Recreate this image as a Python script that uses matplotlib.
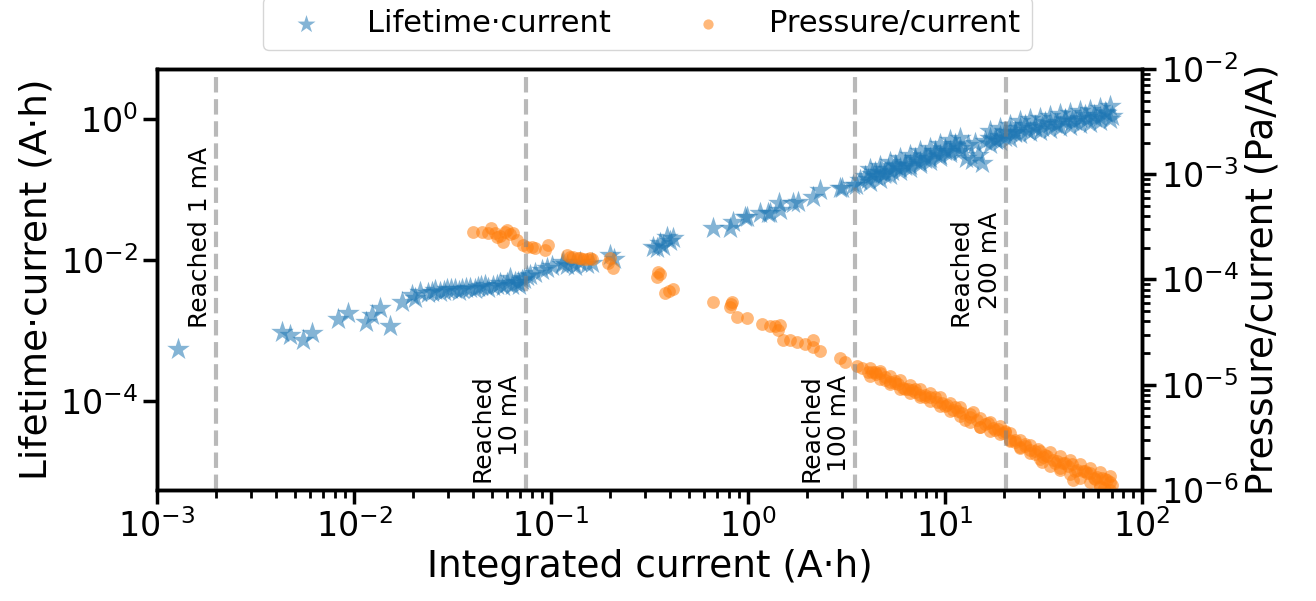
import numpy as np
import matplotlib
matplotlib.use("Agg")
import matplotlib.pyplot as plt
from matplotlib.ticker import NullLocator

# === Daten ===

# Lifetime·current (linke Achse)
life_x = [0.00128, 0.00431, 0.00473, 0.00551, 0.00612, 0.0083, 0.0093, 0.0115, 0.0123, 0.0135,
          0.0152, 0.0175, 0.0197, 0.0204, 0.0216, 0.0238, 0.0248, 0.0258, 0.0273, 0.0285,
          0.0297, 0.031, 0.0326, 0.034, 0.0353, 0.037, 0.0388, 0.041, 0.0426, 0.044,
          0.0462, 0.048, 0.0508, 0.053, 0.0551, 0.057, 0.0598, 0.0619, 0.0634, 0.066,
          0.068, 0.069, 0.0713, 0.073, 0.0755, 0.078, 0.0829, 0.090, 0.0954, 0.1012,
          0.1137, 0.1151, 0.1206, 0.1293, 0.1324, 0.1404, 0.1523, 0.1614, 0.1993, 0.21,
          0.33, 0.3451, 0.3574, 0.37, 0.388, 0.40, 0.4162, 0.6643, 0.8102, 0.8393,
          0.966, 0.9883, 1.151, 1.263, 1.293, 1.43, 1.453, 1.692, 1.794, 2.138,
          2.32, 2.93, 3.0, 3.41, 3.55, 3.703, 3.925, 4.066, 4.260, 4.464,
          4.679, 4.902, 5.137, 5.383, 5.640, 5.910, 6.266, 6.642, 7.042, 7.467,
          7.918, 8.394, 8.897, 9.432, 10.0, 10.60, 11.24, 11.92, 12.78, 13.09,
          13.71, 14.20, 14.71, 15.41, 15.96, 16.92, 18.15, 19.02, 20.16, 21.38,
          22.66, 24.03, 26.08, 28.63, 31.08, 34.12, 37.03, 40.66, 44.13, 48.45,
          52.58, 57.06, 61.22, 65.66, 70.42]
life_y = [5.47e-4, 9.52e-4, 8.64e-4, 7.33e-4, 9.22e-4, 1.46e-3, 1.77e-3, 1.32e-3, 1.66e-3, 2.09e-3,
          1.16e-3, 2.54e-3, 3.19e-3, 2.89e-3, 3.52e-3, 3.40e-3, 3.6e-3, 3.75e-3, 3.52e-3, 3.7e-3,
          3.88e-3, 3.95e-3, 3.88e-3, 3.7e-3, 3.88e-3, 4.1e-3, 4.01e-3, 3.9e-3, 4.14e-3, 4.3e-3,
          4.42e-3, 4.0e-3, 4.28e-3, 4.5e-3, 4.72e-3, 4.3e-3, 4.72e-3, 5.56e-3, 4.42e-3, 5.0e-3,
          4.88e-3, 4.5e-3, 5.20e-3, 5.5e-3, 5.93e-3, 6.2e-3, 6.54e-3, 7.21e-3, 7.7e-3, 8.22e-3,
          8.77e-3, 9.37e-3, 8.49e-3, 9.06e-3, 8.22e-3, 9.37e-3, 8.77e-3, 9.06e-3, 1.18e-2, 1.05e-2,
          1.55e-2, 1.48e-2, 1.74e-2, 1.6e-2, 2.12e-2, 1.9e-2, 2.05e-2, 2.84e-2, 2.84e-2, 3.46e-2,
          4.07e-2, 4.07e-2, 4.64e-2, 4.64e-2, 4.64e-2, 6.44e-2, 5.12e-2, 6.44e-2, 6.65e-2, 7.83e-2,
          9.84e-2, 0.105, 0.105, 0.116, 0.116, 0.136, 0.155, 0.141, 0.166, 0.155,
          0.177, 0.166, 0.195, 0.183, 0.216, 0.202, 0.230, 0.223, 0.262, 0.245,
          0.299, 0.280, 0.330, 0.309, 0.375, 0.352, 0.414, 0.388, 0.280, 0.428,
          0.262, 0.457, 0.309, 0.238, 0.488, 0.537, 0.504, 0.574, 0.556, 0.654,
          0.633, 0.745, 0.698, 0.796, 0.770, 0.877, 0.849, 0.968, 0.937, 1.033,
          1.0, 1.140, 1.067, 1.216, 1.103]

# dichtes Band > 4 A·h: Ober- und Unterkante
life_band_x = [4.162, 4.679, 5.258, 5.910, 6.642, 7.467, 8.394, 9.432, 10.60, 11.92,
               16.92, 19.02, 21.38, 24.03, 27.01, 30.36, 34.12, 38.36, 43.10, 48.45,
               54.45, 61.22, 68.82]
life_band_hi = [0.195, 0.219, 0.245, 0.280, 0.313, 0.352, 0.394, 0.442, 0.504, 0.547,
                0.676, 0.745, 0.822, 0.937, 1.0, 1.050, 1.103, 1.178, 1.236, 1.298,
                1.364, 1.456, 1.554]
life_band_lo = [0.128, 0.143, 0.161, 0.183, 0.205, 0.230, 0.258, 0.289, 0.330, 0.357,
                0.442, 0.488, 0.537, 0.613, 0.654, 0.687, 0.721, 0.770, 0.809, 0.849,
                0.892, 0.952, 1.016]

# zusätzliche Punkte in der Bandmitte (beide Reihen)
band_mid_x = [4.413, 4.959, 5.574, 6.266, 7.042, 7.918, 8.897, 10.0, 11.24, 17.94,
              20.16, 22.66, 25.47, 28.63, 32.19, 36.18, 40.66, 45.69, 51.37, 57.73,
              64.89]
life_mid_y = [0.177, 0.171, 0.223, 0.219, 0.280, 0.275, 0.352, 0.352, 0.442, 0.529,
              0.665, 0.654, 0.822, 0.757, 0.906, 0.849, 1.016, 0.937, 1.140, 1.050,
              1.277]
press_mid_y = [1.32e-5, 1.12e-5, 1.086e-5, 9.11e-6, 9.11e-6, 7.65e-6, 7.65e-6, 6.35e-6, 6.15e-6, 3.72e-6,
               3.64e-6, 2.83e-6, 2.71e-6, 2.20e-6, 2.15e-6, 1.81e-6, 1.81e-6, 1.52e-6, 1.52e-6, 1.27e-6,
               1.27e-6]

# Pressure/current (rechte Achse)
press_x = [0.0402, 0.0447, 0.0479, 0.0496, 0.0519, 0.0532, 0.0551, 0.0571, 0.0584, 0.0598,
           0.0619, 0.0641, 0.0672, 0.0721, 0.0755, 0.0801, 0.0829, 0.0932, 0.0965, 0.1206,
           0.1249, 0.1293, 0.1371, 0.1404, 0.1454, 0.1523, 0.1578, 0.1614, 0.1947, 0.1993,
           0.2064, 0.3451, 0.3491, 0.3574, 0.3791, 0.397, 0.4162, 0.6643, 0.8102, 0.82,
           0.8295, 0.8793, 0.9883, 1.178, 1.293, 1.37, 1.420, 1.453, 1.505, 1.634,
           1.773, 1.947, 2.138, 2.138, 2.320, 2.931, 3.108, 3.576, 3.791, 4.066,
           4.260, 4.464, 4.679, 4.959, 5.258, 5.574, 5.773, 6.122, 6.490, 6.800,
           7.042, 7.467, 7.918, 8.394, 9.108, 9.656, 10.24, 10.98, 11.64, 12.20,
           12.63, 13.40, 13.87, 14.54, 15.05, 15.96, 16.53, 17.52, 18.58, 19.70,
           20.16, 21.38, 22.66, 24.03, 25.47, 27.01, 28.63, 29.66, 31.08, 31.44,
           32.94, 35.34, 37.03, 38.36, 39.72, 42.11, 44.13, 44.64, 46.77, 50.17,
           52.58, 54.45, 57.06, 59.11, 61.22, 62.66, 64.13, 66.42, 68.82, 70.42]
press_y = [2.83e-4, 2.83e-4, 2.77e-4, 3.08e-4, 2.77e-4, 2.53e-4, 2.59e-4, 2.27e-4, 2.83e-4, 2.95e-4,
           2.71e-4, 2.77e-4, 2.37e-4, 2.13e-4, 2.04e-4, 2.04e-4, 2.0e-4, 1.91e-4, 2.13e-4, 1.71e-4,
           1.64e-4, 1.64e-4, 1.60e-4, 1.60e-4, 1.57e-4, 1.57e-4, 1.60e-4, 1.57e-4, 1.44e-4, 1.60e-4,
           1.29e-4, 1.06e-4, 1.18e-4, 1.12e-4, 7.44e-5, 7.8e-5, 8.12e-5, 6.11e-5, 5.48e-5, 5.8e-5,
           6.11e-5, 4.40e-5, 4.31e-5, 3.78e-5, 3.62e-5, 3.62e-5, 3.31e-5, 3.70e-5, 2.66e-5, 2.66e-5,
           2.55e-5, 2.44e-5, 2.66e-5, 2.28e-5, 2.09e-5, 1.80e-5, 1.64e-5, 1.51e-5, 1.44e-5, 1.32e-5,
           1.32e-5, 1.26e-5, 1.29e-5, 1.19e-5, 1.06e-5, 1.04e-5, 1.02e-5, 9.31e-6, 9.11e-6, 8.91e-6,
           8.53e-6, 7.99e-6, 7.99e-6, 7.65e-6, 6.86e-6, 6.71e-6, 6.42e-6, 5.75e-6, 5.63e-6, 5.39e-6,
           4.62e-6, 4.94e-6, 5.51e-6, 4.62e-6, 3.97e-6, 4.24e-6, 4.33e-6, 3.88e-6, 3.80e-6, 3.48e-6,
           3.56e-6, 2.99e-6, 2.99e-6, 2.56e-6, 2.62e-6, 2.40e-6, 2.35e-6, 2.45e-6, 1.85e-6, 2.06e-6,
           2.10e-6, 1.93e-6, 1.89e-6, 1.62e-6, 1.81e-6, 1.69e-6, 1.77e-6, 1.25e-6, 1.55e-6, 1.52e-6,
           1.45e-6, 1.45e-6, 1.30e-6, 1.33e-6, 1.07e-6, 1.30e-6, 1.04e-6, 1.25e-6, 1.19e-6, 1.12e-6]

# dichtes Band > 4 A·h: Ober- und Unterkante
press_band_x = [4.162, 4.679, 5.258, 5.910, 6.642, 7.467, 8.394, 9.432, 10.60, 11.92,
                13.40, 15.05, 16.92, 19.02, 21.38, 24.03, 27.01, 30.36, 34.12, 38.36,
                43.10, 48.45, 54.45, 61.22, 68.82]
press_band_hi = [1.43e-5, 1.35e-5, 1.21e-5, 1.10e-5, 9.95e-6, 9.11e-6, 8.35e-6, 7.57e-6, 6.78e-6, 6.08e-6,
                 5.33e-6, 4.78e-6, 4.38e-6, 4.06e-6, 3.48e-6, 2.99e-6, 2.68e-6, 2.35e-6, 2.30e-6, 2.10e-6,
                 1.93e-6, 1.77e-6, 1.62e-6, 1.48e-6, 1.36e-6]
press_band_lo = [1.20e-5, 1.13e-5, 1.02e-5, 9.21e-6, 8.35e-6, 7.65e-6, 7.01e-6, 6.35e-6, 5.69e-6, 5.10e-6,
                 4.47e-6, 4.01e-6, 3.67e-6, 3.40e-6, 2.92e-6, 2.51e-6, 2.25e-6, 1.97e-6, 1.69e-6, 1.55e-6,
                 1.42e-6, 1.30e-6, 1.19e-6, 1.09e-6, 1.0e-6]

# Markierungen "Reached ..."
reached_x = [0.002, 0.075, 3.5, 20.5]
reached_labels = ["Reached 1 mA", "Reached\n10 mA", "Reached\n100 mA", "Reached \n200 mA"]
reached_ypos = [0.385, 0.018, 0.018, 0.385]

# === Plot ===
fig = plt.figure(figsize=(13.16, 6.01), dpi=100)
ax = fig.add_axes([0.1193, 0.1847, 0.7485, 0.7005])
ax2 = ax.twinx()

lx = life_x + life_band_x + life_band_x + band_mid_x
ly = life_y + life_band_hi + life_band_lo + life_mid_y
px = press_x + press_band_x + press_band_x + band_mid_x
py = press_y + press_band_hi + press_band_lo + press_mid_y

sc1 = ax.scatter(lx, ly, marker='*', s=290, color='tab:blue', alpha=0.55, linewidths=0,
                 label='Lifetime·current')
sc2 = ax2.scatter(px, py, marker='o', s=85, color='tab:orange', alpha=0.55, linewidths=0,
                  label='Pressure/current')

for xv, lab, yp in zip(reached_x, reached_labels, reached_ypos):
    ax2.axvline(xv, color='gray', alpha=0.55, linestyle='--', linewidth=3)
    ax2.text(xv * 0.955, yp, lab, rotation=90, ha='right', va='bottom', fontsize=18,
             transform=ax2.get_xaxis_transform())

ax.set_xscale('log')
ax.set_yscale('log')
ax2.set_yscale('log')
ax.set_xlim(1e-3, 1e2)
ax.set_ylim(5.5e-6, 5.2)
ax2.set_ylim(1e-6, 1e-2)

ax.set_yticks([1e-4, 1e-2, 1e0])
ax.yaxis.set_minor_locator(NullLocator())

ax.set_xlabel('Integrated current (A·h)', fontsize=27)
ax.set_ylabel('Lifetime·current (A·h)', fontsize=27)
ax2.set_ylabel('Pressure/current (Pa/A)', fontsize=27)

for a in (ax, ax2):
    a.tick_params(which='major', labelsize=24, length=10, width=2.5)
    a.tick_params(which='minor', length=6, width=2)
    for sp in a.spines.values():
        sp.set_linewidth(2.5)

fig.legend(handles=[sc1, sc2], loc='lower center', bbox_to_anchor=(0.492, 1 - 50 / 601),
           borderaxespad=0, ncol=2, fontsize=22, markerscale=0.8,
           columnspacing=2.17, handletextpad=1.0)

plt.savefig('out.png', dpi=100)
